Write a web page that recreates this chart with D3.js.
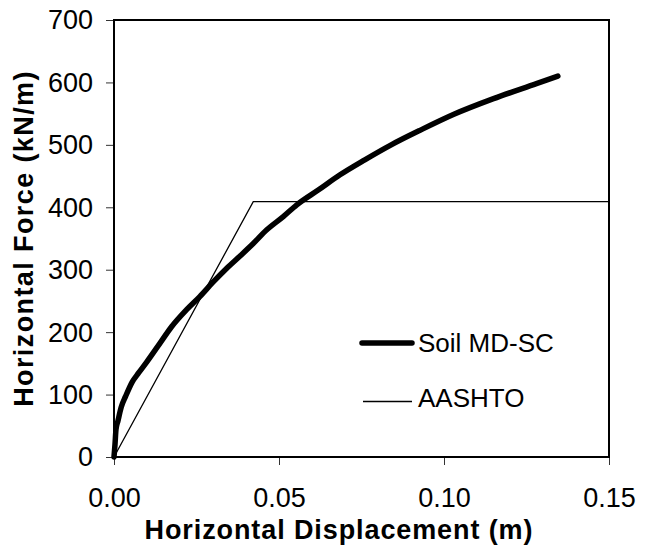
<!DOCTYPE html>
<html>
<head>
<meta charset="utf-8">
<script src="https://cdn.jsdelivr.net/npm/d3@7"></script>
<style>
  body { margin: 0; background: #fff; }
  svg { display: block; font-family: Arial, "Liberation Sans", sans-serif; }
</style>
</head>
<body>
<script>
// Soil MD-SC measured curve
var soilDisp = [0, 0.0003, 0.0006, 0.0012, 0.0022, 0.0035, 0.0055, 0.0075, 0.0099, 0.0139, 0.0175,
  0.022, 0.026, 0.030, 0.0341, 0.0382, 0.0422, 0.0463, 0.0513, 0.0554, 0.062, 0.0685, 0.076,
  0.084, 0.093, 0.103, 0.115, 0.128, 0.1345];
var soilForce = [0, 20, 44, 58, 80, 97, 120, 135, 152, 182, 209,
  236, 257, 280, 302, 322, 342, 364, 385, 404, 428, 452, 476,
  500, 524, 549, 574, 598, 610];

// AASHTO bilinear
var aashtoDisp = [0, 0.0422, 0.15];
var aashtoForce = [0, 409, 409];

var xTicks = [0, 0.05, 0.10, 0.15];
var yTicks = [0, 100, 200, 300, 400, 500, 600, 700];

var W = 654, H = 546;
var svg = d3.select("body").append("svg")
  .attr("width", W)
  .attr("height", H);

var x = d3.scaleLinear().domain([0, 0.15]).range([114, 609]);
var y = d3.scaleLinear().domain([0, 700]).range([457, 20]);

// axes
var xAxis = svg.append("g")
  .attr("transform", "translate(0," + y(0) + ")")
  .call(d3.axisBottom(x).tickValues(xTicks).tickSize(8).tickSizeOuter(0)
    .tickFormat(d3.format(".2f")));
xAxis.select(".domain").remove();
xAxis.selectAll("line").attr("stroke", "#333");
xAxis.selectAll("text")
  .attr("y", 50)
  .attr("dy", null)
  .style("font-size", "27px")
  .attr("fill", "#000");

var yAxis = svg.append("g")
  .attr("transform", "translate(" + x(0) + ",0)")
  .call(d3.axisLeft(y).tickValues(yTicks).tickSize(8).tickSizeOuter(0).tickPadding(13));
yAxis.select(".domain").remove();
yAxis.selectAll("line").attr("stroke", "#333");
yAxis.selectAll("text")
  .attr("dy", "0.33em")
  .style("font-size", "27px")
  .attr("fill", "#000");

// plot frame
svg.append("rect")
  .attr("x", x(0))
  .attr("y", y(700))
  .attr("width", x(0.15) - x(0))
  .attr("height", y(0) - y(700))
  .attr("fill", "none")
  .attr("stroke", "#000")
  .attr("stroke-width", 2);

var line = d3.line()
  .x(function(d) { return x(d[0]); })
  .y(function(d) { return y(d[1]); });

var aashto = aashtoDisp.map(function(d, i) { return [d, aashtoForce[i]]; });
svg.append("path")
  .attr("d", line(aashto))
  .attr("fill", "none")
  .attr("stroke", "#000")
  .attr("stroke-width", 1.3);

var soil = soilDisp.map(function(d, i) { return [d, soilForce[i]]; });
svg.append("path")
  .attr("d", line.curve(d3.curveMonotoneX)(soil))
  .attr("fill", "none")
  .attr("stroke", "#000")
  .attr("stroke-width", 5.5)
  .attr("stroke-linecap", "round")
  .attr("stroke-linejoin", "round");

// legend
var legend = svg.append("g");
legend.append("line")
  .attr("x1", 362).attr("x2", 412)
  .attr("y1", 343).attr("y2", 343)
  .attr("stroke", "#000")
  .attr("stroke-width", 5.5)
  .attr("stroke-linecap", "round");
legend.append("text")
  .attr("x", 418).attr("y", 352)
  .style("font-size", "26px")
  .text("Soil MD-SC");
legend.append("line")
  .attr("x1", 363).attr("x2", 412)
  .attr("y1", 401.5).attr("y2", 401.5)
  .attr("stroke", "#000")
  .attr("stroke-width", 1.3);
legend.append("text")
  .attr("x", 418).attr("y", 407)
  .style("font-size", "26px")
  .text("AASHTO");

// axis titles
svg.append("text")
  .attr("x", 339)
  .attr("y", 539)
  .style("text-anchor", "middle")
  .style("font-size", "27px")
  .style("font-weight", "bold")
  .style("letter-spacing", "0.9px")
  .text("Horizontal Displacement (m)");

svg.append("text")
  .attr("transform", "rotate(-90)")
  .attr("x", -238.5)
  .attr("y", 33)
  .style("text-anchor", "middle")
  .style("font-size", "27px")
  .style("font-weight", "bold")
  .style("letter-spacing", "1.4px")
  .text("Horizontal Force (kN/m)");
</script>
</body>
</html>
